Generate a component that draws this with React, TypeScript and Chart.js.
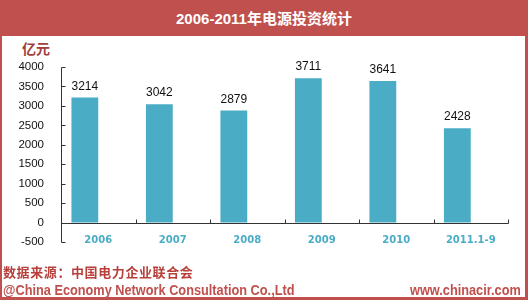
import React, { useEffect, useRef } from "react";
import { Chart, registerables } from "chart.js";

Chart.register(...registerables);

const categories = ["2006", "2007", "2008", "2009", "2010", "2011.1-9"];
const investment = [3214, 3042, 2879, 3711, 3641, 2428];
const emptySeries = [null, null, null, null, null, null];
const yMin = -500;
const yMax = 4000;
const yStep = 500;

const RED = "#C0504D";
const BAR = "#4BACC6";

const axisPlugin = {
  id: "axisLines",
  afterDatasetsDraw(chart: any) {
    const { ctx, chartArea, scales } = chart;
    const x = scales.x;
    const y = scales.y;
    ctx.save();
    ctx.strokeStyle = "#333";
    ctx.lineWidth = 1;
    const lx = Math.round(chartArea.left) + 0.5;
    ctx.beginPath();
    ctx.moveTo(lx, Math.round(y.getPixelForValue(yMax)) + 0.5);
    ctx.lineTo(lx, Math.round(y.getPixelForValue(yMin)) + 0.5);
    y.ticks.forEach((t: any) => {
      const py = Math.round(y.getPixelForValue(t.value)) + 0.5;
      ctx.moveTo(lx, py);
      ctx.lineTo(lx + 4, py);
    });
    const y0 = Math.round(y.getPixelForValue(0)) + 0.5;
    const rx = Math.round(chartArea.right) + 0.5;
    ctx.moveTo(lx, y0);
    ctx.lineTo(rx, y0);
    for (let i = 0; i < categories.length; i++) {
      const bx = Math.round(x.getPixelForValue(i + 0.5)) + 0.5;
      ctx.moveTo(bx, y0);
      ctx.lineTo(bx, y0 - 4);
    }
    ctx.stroke();

    const meta = chart.getDatasetMeta(0);
    ctx.fillStyle = "#111";
    ctx.font = "12px 'Liberation Sans', Arial, sans-serif";
    ctx.textAlign = "center";
    ctx.textBaseline = "alphabetic";
    meta.data.forEach((el: any, i: number) => {
      ctx.fillText(String(investment[i]), el.x, el.y - 8);
    });
    ctx.restore();
  },
};

export default function App() {
  const ref = useRef<HTMLCanvasElement>(null);
  useEffect(() => {
    const chart = new Chart(ref.current as HTMLCanvasElement, {
      type: "bar",
      data: {
        labels: categories,
        datasets: [
          { label: "电源投资", data: investment, backgroundColor: BAR, categoryPercentage: 0.72, barPercentage: 1 },
          { label: "", data: emptySeries as any, backgroundColor: "transparent", categoryPercentage: 0.72, barPercentage: 1 },
        ],
      },
      options: {
        animation: false,
        responsive: false,
        maintainAspectRatio: false,
        layout: { padding: { top: 67, bottom: 58, right: 20, left: 0 } },
        plugins: { legend: { display: false }, title: { display: false }, tooltip: { enabled: false } },
        scales: {
          x: {
            position: { y: 0 } as any,
            grid: { display: false, drawTicks: false },
            border: { display: false },
            ticks: {
              color: "#4BACC6",
              font: { family: "'DejaVu Sans', Verdana, sans-serif", size: 10, weight: "bold" },
              padding: 12,
              maxRotation: 0,
              autoSkip: false,
            },
          },
          y: {
            min: yMin,
            max: yMax,
            grid: { display: false, drawTicks: false },
            border: { display: false },
            afterFit: (s: any) => {
              s.width = 61;
            },
            ticks: {
              stepSize: yStep,
              color: "#111",
              padding: 17,
              font: { family: "'Liberation Sans', Arial, sans-serif", size: 11.5 },
              callback: (v: any) => String(v),
            },
          },
        },
      },
      plugins: [axisPlugin],
    });
    return () => chart.destroy();
  }, []);

  return (
    <div style={{ position: "fixed", left: 0, top: 0, width: 528, height: 300, background: RED, overflow: "hidden" }}>
      <div style={{ position: "absolute", left: 2, top: 36, width: 523, height: 261, background: "#fff" }} />
      <div
        style={{
          position: "absolute",
          left: 0,
          top: 0,
          width: 528,
          height: 36,
          lineHeight: "38px",
          textAlign: "center",
          color: "#fff",
          fontWeight: "bold",
          fontSize: 15,
          fontFamily: "'Liberation Sans', 'Noto Sans CJK SC', sans-serif",
        }}
      >
        2006-2011年电源投资统计
      </div>
      <div
        style={{
          position: "absolute",
          left: 22,
          top: 39,
          color: "#A0403E",
          fontWeight: "bold",
          fontSize: 14,
          fontFamily: "'Noto Sans CJK SC', sans-serif",
          lineHeight: "18px",
        }}
      >
        亿元
      </div>
      <canvas ref={ref} width={528} height={300} style={{ position: "absolute", left: 0, top: 0, width: 528, height: 300 }} />
      <div
        style={{
          position: "absolute",
          left: 3,
          top: 263,
          color: "#B8403C",
          fontWeight: "bold",
          fontSize: 13,
          letterSpacing: 0.6,
          fontFamily: "'Noto Sans CJK SC', sans-serif",
          lineHeight: "18px",
          whiteSpace: "nowrap",
        }}
      >
        数据来源：中国电力企业联合会
      </div>
      <div
        style={{
          position: "absolute",
          left: 3,
          top: 281,
          color: RED,
          fontWeight: "bold",
          fontSize: 15,
          fontFamily: "'Liberation Sans', Arial, sans-serif",
          lineHeight: "18px",
          whiteSpace: "nowrap",
          transform: "scaleX(0.85)",
          transformOrigin: "left center",
        }}
      >
        @China Economy Network Consultation Co.,Ltd
      </div>
      <div
        style={{
          position: "absolute",
          left: 410,
          top: 281,
          color: RED,
          fontWeight: "bold",
          fontSize: 15,
          fontFamily: "'Liberation Sans', Arial, sans-serif",
          lineHeight: "18px",
          whiteSpace: "nowrap",
          transform: "scaleX(0.85)",
          transformOrigin: "left center",
        }}
      >
        www.chinacir.com
      </div>
      <div style={{ position: "absolute", left: 525, top: 36, width: 3, height: 264, background: RED }} />
    </div>
  );
}
